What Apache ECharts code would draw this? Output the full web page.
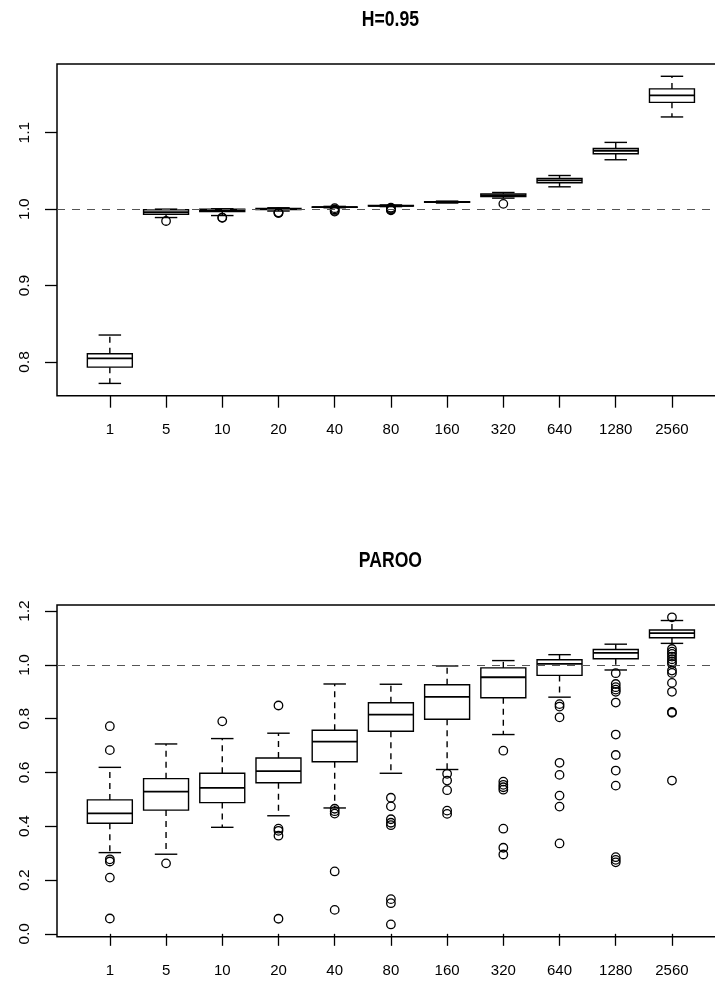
<!DOCTYPE html>
<html>
<head>
<meta charset="utf-8">
<script src="https://cdn.jsdelivr.net/npm/echarts@6/dist/echarts.min.js"></script>
<style>
  html, body { margin: 0; padding: 0; background: #fff; }
  #chart { width: 715px; height: 981px; }
</style>
</head>
<body>
<div id="chart"></div>
<script>
// Window sizes shown along the x axis
const categories = ['1', '5', '10', '20', '40', '80', '160', '320', '640', '1280', '2560'];

// Five-number summaries per window: [lower whisker, Q1, median, Q3, upper whisker]
const statsH095 = [
  [0.7720, 0.7933, 0.8047, 0.8108, 0.8353],
  [0.9890, 0.9934, 0.9960, 0.9991, 1.0000],
  [0.9916, 0.9969, 0.9985, 0.9998, 1.0005],
  [0.9975, 0.9995, 1.0003, 1.0009, 1.0018],
  [1.0018, 1.0023, 1.0026, 1.0029, 1.0036],
  [1.0033, 1.0039, 1.0043, 1.0047, 1.0055],
  [1.0080, 1.0088, 1.0092, 1.0097, 1.0105],
  [1.0144, 1.0165, 1.0183, 1.0200, 1.0218],
  [1.0292, 1.0345, 1.0375, 1.0400, 1.0440],
  [1.0646, 1.0725, 1.0764, 1.0794, 1.0873],
  [1.1206, 1.1397, 1.1489, 1.1573, 1.1738]
];
const outliersH095 = [
  [],
  [0.9845],
  [0.9890, 0.9886],
  [0.9958, 0.9953, 0.9950],
  [1.0012, 0.9995, 0.9980, 0.9968],
  [1.0018, 1.0005, 0.9992, 0.9985],
  [],
  [1.0069],
  [],
  [],
  []
];

const statsParoo = [
  [0.302, 0.411, 0.448, 0.498, 0.619],
  [0.296, 0.460, 0.529, 0.577, 0.706],
  [0.396, 0.488, 0.543, 0.597, 0.726],
  [0.439, 0.562, 0.605, 0.654, 0.746],
  [0.468, 0.640, 0.715, 0.757, 0.929],
  [0.597, 0.753, 0.815, 0.859, 0.928],
  [0.611, 0.798, 0.881, 0.926, 0.996],
  [0.741, 0.878, 0.954, 0.989, 1.016],
  [0.880, 0.961, 1.004, 1.019, 1.038],
  [0.981, 1.023, 1.045, 1.057, 1.077],
  [1.080, 1.101, 1.118, 1.130, 1.165]
];
const outliersParoo = [
  [0.772, 0.683, 0.277, 0.269, 0.209, 0.057],
  [0.262],
  [0.790],
  [0.849, 0.391, 0.383, 0.365, 0.056],
  [0.465, 0.456, 0.447, 0.232, 0.089],
  [0.506, 0.474, 0.426, 0.413, 0.404, 0.129, 0.114, 0.035],
  [0.595, 0.570, 0.534, 0.458, 0.446],
  [0.681, 0.566, 0.554, 0.545, 0.536, 0.391, 0.320, 0.295],
  [0.854, 0.845, 0.805, 0.636, 0.591, 0.514, 0.473, 0.336],
  [0.969, 0.929, 0.917, 0.908, 0.900, 0.860, 0.741, 0.665, 0.607, 0.551, 0.285, 0.275, 0.266],
  [1.177, 1.059, 1.049, 1.041, 1.031, 1.021, 1.012, 1.004, 0.979, 0.970, 0.933, 0.900, 0.825, 0.822, 0.570]
];

const ticksH095 = [0.8, 0.9, 1.0, 1.1];
const ticksParoo = [0.0, 0.2, 0.4, 0.6, 0.8, 1.0, 1.2];
const refLevel = 1.0;
const titles = ['H=0.95', 'PAROO'];

// ---- layout / style constants ----
const BOX_WIDTH = 0.8;           // in x-axis units
const LINE_W = 1.4;
const TICK_FONT = "'Liberation Sans', Arial, sans-serif";
const xPositions = categories.map((_, i) => i + 1);

// y range padded by 4% like the usual plotting default
function paddedRange(stats, outs) {
  let lo = Infinity, hi = -Infinity;
  stats.forEach(s => { lo = Math.min(lo, s[0]); hi = Math.max(hi, s[4]); });
  outs.forEach(o => o.forEach(v => { lo = Math.min(lo, v); hi = Math.max(hi, v); }));
  const pad = (hi - lo) * 0.04;
  return [lo - pad, hi + pad];
}
const xPad = (categories.length) * 0.04;
const xRange = [0.5 - xPad, categories.length + 0.5 + xPad];

function renderBox(params, api) {
  const x = api.value(0);
  const lo = api.coord([x, api.value(1)]);
  const q1 = api.coord([x, api.value(2)]);
  const md = api.coord([x, api.value(3)]);
  const q3 = api.coord([x, api.value(4)]);
  const hi = api.coord([x, api.value(5)]);
  const bw = api.size([BOX_WIDTH, 0])[0];
  const cx = md[0];
  const half = bw / 2;
  const cap = bw / 4;
  const solid = { stroke: '#000', lineWidth: LINE_W };
  const dashed = { stroke: '#000', lineWidth: LINE_W, lineDash: [6, 5] };
  return {
    type: 'group',
    children: [
      { type: 'line', shape: { x1: cx, y1: q3[1], x2: cx, y2: hi[1] }, style: dashed },
      { type: 'line', shape: { x1: cx, y1: q1[1], x2: cx, y2: lo[1] }, style: dashed },
      { type: 'line', shape: { x1: cx - cap, y1: hi[1], x2: cx + cap, y2: hi[1] }, style: solid },
      { type: 'line', shape: { x1: cx - cap, y1: lo[1], x2: cx + cap, y2: lo[1] }, style: solid },
      { type: 'rect', shape: { x: cx - half, y: q3[1], width: bw, height: q1[1] - q3[1] },
        style: { stroke: '#000', lineWidth: LINE_W, fill: 'none' } },
      { type: 'line', shape: { x1: cx - half, y1: md[1], x2: cx + half, y2: md[1] },
        style: { stroke: '#000', lineWidth: 1.8 } }
    ]
  };
}

const panels = [
  { stats: statsH095, outs: outliersH095, ticks: ticksH095, top: 64 },
  { stats: statsParoo, outs: outliersParoo, ticks: ticksParoo, top: 605 }
];
const PANEL_H = 331.7;
const PANEL_LEFT = 57;
const PANEL_W = 667.8;

const grid = [], xAxis = [], yAxis = [], series = [], graphic = [];
panels.forEach((p, k) => {
  const yr = paddedRange(p.stats, p.outs);
  grid.push({
    left: PANEL_LEFT, top: p.top, width: PANEL_W, height: PANEL_H,
    outerBoundsMode: 'none', containLabel: false,
    show: true, borderColor: '#000', borderWidth: 1.5, backgroundColor: 'transparent'
  });
  xAxis.push({
    type: 'value', gridIndex: k, min: xRange[0], max: xRange[1],
    axisLine: { show: false },
    splitLine: { show: false },
    axisTick: { show: true, length: 12, customValues: xPositions, lineStyle: { color: '#000', width: 1.3 } },
    axisLabel: {
      customValues: xPositions, margin: 27, fontSize: 15, color: '#000', fontFamily: TICK_FONT,
      formatter: v => categories[Math.round(v) - 1]
    }
  });
  yAxis.push({
    type: 'value', gridIndex: k, min: yr[0], max: yr[1],
    axisLine: { show: false },
    splitLine: { show: false },
    axisTick: { show: true, length: 12, customValues: p.ticks, lineStyle: { color: '#000', width: 1.3 } },
    axisLabel: {
      customValues: p.ticks, rotate: 90, margin: 24, fontSize: 15.5, color: '#000', fontFamily: TICK_FONT,
      formatter: v => v.toFixed(1)
    }
  });
  series.push({
    type: 'custom', xAxisIndex: k, yAxisIndex: k,
    renderItem: renderBox,
    encode: { x: 0, y: [1, 2, 3, 4, 5] },
    data: p.stats.map((s, i) => [xPositions[i]].concat(s)),
    silent: true
  });
  const pts = [];
  p.outs.forEach((o, i) => o.forEach(v => pts.push([xPositions[i], v])));
  series.push({
    type: 'scatter', xAxisIndex: k, yAxisIndex: k,
    symbol: 'circle', symbolSize: 8.5,
    itemStyle: { color: 'rgba(0,0,0,0)', borderColor: '#000', borderWidth: 1.3, opacity: 1 },
    data: pts,
    silent: true,
    markLine: {
      silent: true, symbol: ['none', 'none'], label: { show: false },
      lineStyle: { type: [8, 7], color: '#555', width: 1.2 },
      data: [{ yAxis: refLevel }]
    }
  });
  // panel title: bold, horizontally condensed, centred over the plot region
  graphic.push({
    type: 'text',
    x: PANEL_LEFT + PANEL_W / 2 - 0.5,
    y: p.top - 44.5,
    scaleX: 0.8,
    silent: true,
    style: {
      text: titles[k],
      fill: '#000',
      font: "bold 22px 'Liberation Sans', Arial, sans-serif",
      textAlign: 'center',
      textVerticalAlign: 'middle',
      verticalAlign: 'middle'
    }
  });
});

const chart = echarts.init(document.getElementById('chart'), null, { renderer: 'canvas' });
chart.setOption({
  animation: false,
  backgroundColor: '#fff',
  grid, xAxis, yAxis, series, graphic
});
</script>
</body>
</html>
